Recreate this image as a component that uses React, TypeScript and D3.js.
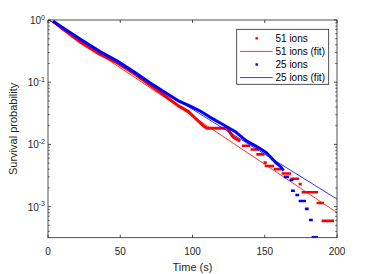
import React from "react";
import { scaleLinear, scaleLog, line } from "d3";

// 51 ions (red) - dense part of the survival curve
const redT = [3.5, 10, 23, 36, 48, 60, 70, 80, 90, 97, 105, 108, 110, 124, 128, 133];
const redV = [0.96, 0.72, 0.43, 0.28, 0.204, 0.135, 0.092, 0.063, 0.042, 0.034, 0.0225, 0.0195, 0.0182, 0.0182, 0.0132, 0.0112];
// tail: runs of points at one value (start, end, value)
const redTailStart = [135, 141, 145, 150, 150.8, 157, 162.5, 168.7, 174.3, 176.3, 186.7, 190.2];
const redTailEnd = [139, 145, 149, 150.5, 155.6, 160.4, 167.4, 172.9, 174.8, 186, 190.2, 197.1];
const redTailV = [0.0095, 0.0083, 0.0069, 0.0051, 0.0045, 0.004, 0.0034, 0.0028, 0.0023, 0.0017, 0.00114, 0.00059];

// 25 ions (blue)
const blueT = [3.5, 10, 23, 36, 48, 60, 70.5, 80, 91, 98, 105, 112, 121, 130, 137, 145, 151, 158, 161, 163];
const blueV = [0.96, 0.76, 0.48, 0.31, 0.219, 0.145, 0.098, 0.071, 0.049, 0.0417, 0.0347, 0.0275, 0.0209, 0.0158, 0.0115, 0.0091, 0.0074, 0.005, 0.0044, 0.0038];
const blueTailStart = [164, 168, 169, 172, 174.3, 178.6, 181.4, 183.3];
const blueTailEnd = [166, 169, 170, 173, 177.7, 179.6, 182.4, 186];
const blueTailV = [0.003, 0.00268, 0.0018, 0.00154, 0.00123, 0.00092, 0.00061, 0.00032];

// exponential fits (straight on log axis): endpoints
const fitT = [0, 200];
const redFitV = [1.02, 0.0008];
const blueFitV = [1.02, 0.00132];

const xTicks = [0, 50, 100, 150, 200];
const yTicks = [-3, -2, -1, 0];

const legendItems = [
  { label: "51 ions", color: "#ff0000", kind: "dot" },
  { label: "51 ions (fit)", color: "#ff0000", kind: "line" },
  { label: "25 ions", color: "#0000ff", kind: "dot" },
  { label: "25 ions (fit)", color: "#0000ff", kind: "line" },
];

const width = 373;
const height = 274;
const margin = { top: 20, right: 36, bottom: 36.3, left: 48 };
const axisColor = "#262626";
const font = "'Liberation Sans', Arial, sans-serif";

const App = () => {
  const x = scaleLinear().domain([0, 200]).range([margin.left, width - margin.right]);
  const y = scaleLog().domain([Math.pow(10, -3.5), 1]).range([height - margin.bottom, margin.top]);
  const x0 = margin.left;
  const x1 = width - margin.right;
  const y0 = height - margin.bottom;
  const y1 = margin.top;

  const mk = (ts: number[], vs: number[]) =>
    line<number>()
      .x((d) => x(d))
      .y((_, i) => y(vs[i]))(ts) || "";

  // minor ticks of the log axis
  const minor: number[] = [];
  for (let e = -4; e < 0; e++) {
    for (let m = 2; m <= 9; m++) {
      const v = m * Math.pow(10, e);
      if (v >= Math.pow(10, -3.5) && v <= 1) minor.push(v);
    }
  }

  const tail = (st: number[], en: number[], vs: number[], color: string) =>
    st.map((s, i) => (
      <line key={i} x1={x(s) - 1.2} x2={x(en[i]) + 1.2} y1={y(vs[i])} y2={y(vs[i])} stroke={color} strokeWidth={2.6} />
    ));

  return (
    <svg width={width} height={height} style={{ position: "absolute", left: 0, top: 0, background: "#fff" }} fontFamily={font}>
      <defs>
        <clipPath id="plot">
          <rect x={x0} y={y1} width={x1 - x0} height={y0 - y1} />
        </clipPath>
      </defs>
      <rect x={0} y={0} width={width} height={height} fill="#fff" />

      <g clipPath="url(#plot)">
        <path d={mk(redT, redV)} fill="none" stroke="#ff0000" strokeWidth={3} strokeLinejoin="round" />
        {tail(redTailStart, redTailEnd, redTailV, "#ff0000")}
        <path d={mk(fitT, redFitV)} fill="none" stroke="#ff0000" strokeWidth={0.8} />
        <path d={mk(blueT, blueV)} fill="none" stroke="#0000ff" strokeWidth={3} strokeLinejoin="round" />
        {tail(blueTailStart, blueTailEnd, blueTailV, "#0000ff")}
        <path d={mk(fitT, blueFitV)} fill="none" stroke="#0000ff" strokeWidth={0.8} />
      </g>

      {/* axes box */}
      <rect x={x0} y={y1} width={x1 - x0} height={y0 - y1} fill="none" stroke={axisColor} strokeWidth={0.8} />

      {xTicks.map((t, i) => (
        <g key={i}>
          <line x1={x(t)} x2={x(t)} y1={y0} y2={y0 - 3} stroke={axisColor} strokeWidth={0.8} />
          <line x1={x(t)} x2={x(t)} y1={y1} y2={y1 + 3} stroke={axisColor} strokeWidth={0.8} />
          <text x={x(t)} y={y0 + 17} textAnchor="middle" fontSize={10} fill={axisColor}>{t}</text>
        </g>
      ))}

      {yTicks.map((e, i) => {
        const yy = y(Math.pow(10, e));
        return (
          <g key={i}>
            <line x1={x0} x2={x0 + 3} y1={yy} y2={yy} stroke={axisColor} strokeWidth={0.8} />
            <line x1={x1} x2={x1 - 3} y1={yy} y2={yy} stroke={axisColor} strokeWidth={0.8} />
            <text x={x0 - 3} y={yy + 4} textAnchor="end" fontSize={10} fill={axisColor}>
              <tspan>10</tspan>
              <tspan dy={-4.5} fontSize={7}>{e}</tspan>
            </text>
          </g>
        );
      })}
      {minor.map((v, i) => (
        <g key={i}>
          <line x1={x0} x2={x0 + 1.8} y1={y(v)} y2={y(v)} stroke={axisColor} strokeWidth={0.7} />
          <line x1={x1} x2={x1 - 1.8} y1={y(v)} y2={y(v)} stroke={axisColor} strokeWidth={0.7} />
        </g>
      ))}

      <text x={(x0 + x1) / 2} y={y0 + 33} textAnchor="middle" fontSize={11} fill={axisColor}>Time (s)</text>
      <text transform={`translate(17, ${(y0 + y1) / 2}) rotate(-90)`} textAnchor="middle" fontSize={11} fill={axisColor}>Survival probability</text>

      {/* legend */}
      <g>
        <rect x={236.7} y={29.3} width={92} height={55} fill="#fff" stroke={axisColor} strokeWidth={0.8} />
        {legendItems.map((d, i) => {
          const ly = 38.3 + i * 13.1;
          return (
            <g key={i}>
              {d.kind === "dot" ? (
                <rect x={255.5} y={ly - 1.2} width={2.4} height={2.4} fill={d.color} />
              ) : (
                <line x1={240} x2={272.7} y1={ly} y2={ly} stroke={d.color} strokeWidth={0.8} />
              )}
              <text x={275.5} y={ly + 3.6} fontSize={10} fill="#000">{d.label}</text>
            </g>
          );
        })}
      </g>
    </svg>
  );
};

export default App;
